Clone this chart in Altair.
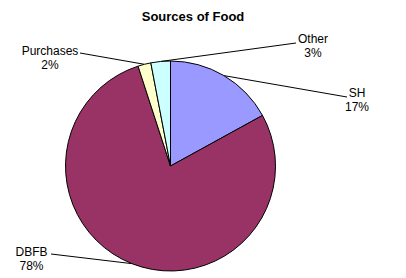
import math
import altair as alt
import pandas as pd

# ---- data ----
categories = ["SH", "DBFB", "Purchases", "Other"]
values = [17, 78, 2, 3]
percent_labels = ["17%", "78%", "2%", "3%"]
colors = ["#9999FF", "#993366", "#FFFFCC", "#CCFFFF"]
title_text = "Sources of Food"

# ---- layout (pixels, chart coordinates) ----
W, H = 390, 269
CX, CY, R = 162.5, 158, 105
LINE_GAP = 14
label_x = [349, 23.5, 42, 305]        # centre of label text
label_y = [89, 248, 47, 35]           # baseline of first label line
leader_end_x = [339, 43, 72, 288]
leader_end_y = [89, 246, 45, 35]

pie_df = pd.DataFrame({"category": categories, "value": values,
                       "idx": list(range(len(categories)))})

# leader lines: from slice mid-angle on the pie edge to the label
total = sum(values)
rows = []
cum = 0
for i, (c, v) in enumerate(zip(categories, values)):
    mid = (cum + v / 2) / total * 2 * math.pi
    cum += v
    sx = CX + R * math.sin(mid)
    sy = CY - R * math.cos(mid)
    rows.append({"category": c, "o": 0, "x": sx, "y": sy})
    rows.append({"category": c, "o": 1, "x": leader_end_x[i], "y": leader_end_y[i]})
leader_df = pd.DataFrame(rows)

text_rows = []
for i, c in enumerate(categories):
    text_rows.append({"text": c, "x": label_x[i], "y": label_y[i]})
    text_rows.append({"text": percent_labels[i], "x": label_x[i], "y": label_y[i] + LINE_GAP})
text_df = pd.DataFrame(text_rows)

pie = alt.Chart(pie_df).mark_arc(radius=R, stroke="black", strokeWidth=1).encode(
    theta=alt.Theta("value:Q", stack=True),
    color=alt.Color("category:N", scale=alt.Scale(domain=categories, range=colors), legend=None),
    order=alt.Order("idx:Q"),
    x=alt.value(CX),
    y=alt.value(CY),
)

leaders = alt.Chart(leader_df).mark_line(color="black", strokeWidth=1).encode(
    x=alt.X("x:Q", scale=None),
    y=alt.Y("y:Q", scale=None),
    detail="category:N",
    order="o:Q",
)

labels = alt.Chart(text_df).mark_text(
    font="Liberation Sans", fontSize=12, align="center", baseline="alphabetic", color="black"
).encode(
    x=alt.X("x:Q", scale=None),
    y=alt.Y("y:Q", scale=None),
    text="text:N",
)

title = alt.Chart(pd.DataFrame({"t": [title_text]})).mark_text(
    font="Liberation Sans", fontSize=13, fontWeight="bold", align="center",
    baseline="alphabetic", color="black"
).encode(x=alt.value(185), y=alt.value(13), text="t:N")

chart = alt.layer(leaders, pie, labels, title).properties(
    width=W, height=H, autosize=alt.AutoSizeParams(type="none"), padding=0,
    background="white",
).configure_view(stroke=None)

chart.save("out.html", embed_options={"renderer": "svg", "actions": False})
